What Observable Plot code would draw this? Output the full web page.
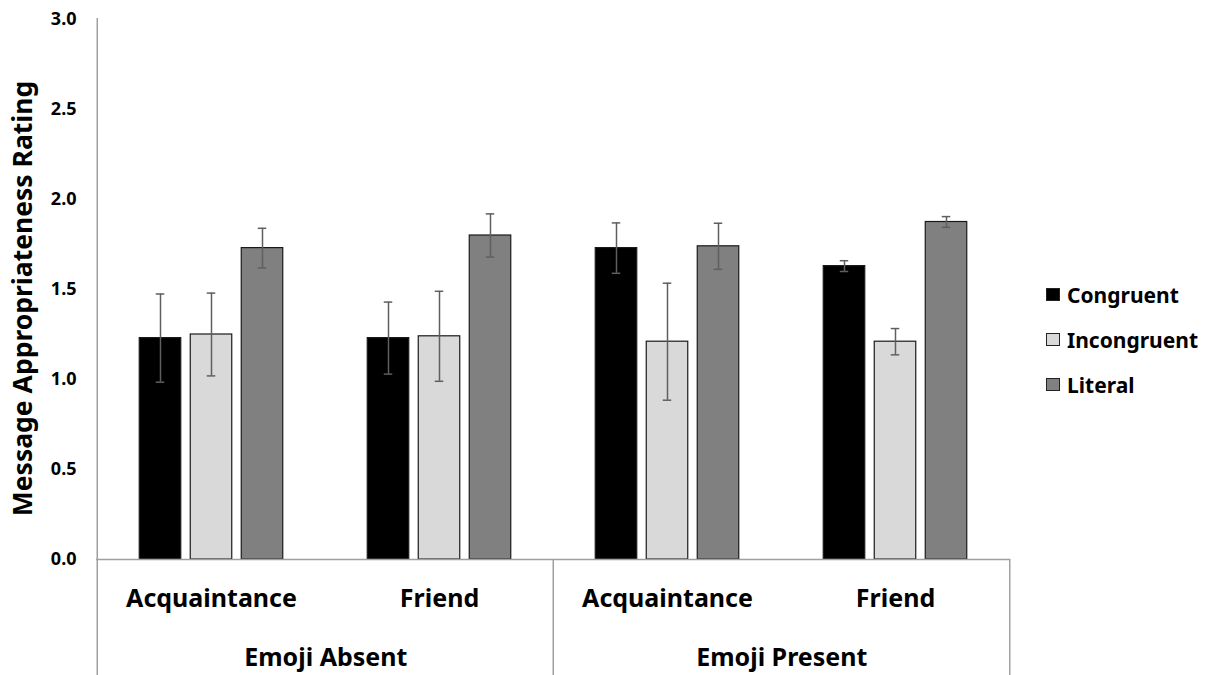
<!DOCTYPE html>
<html><head><meta charset="utf-8">
<script src="https://cdn.jsdelivr.net/npm/d3@7"></script>
<script src="https://cdn.jsdelivr.net/npm/@observablehq/plot@0.6"></script>
<style>
body{margin:0;background:#fff;font-family:"Noto Sans",sans-serif}
#wrap{position:relative;width:1208px;height:675px;overflow:hidden}
#legend{position:absolute;left:1046px;top:272px;font-family:"Noto Sans",sans-serif;font-weight:bold;font-size:21px;color:#000}
#legend .item{display:flex;align-items:center;height:45px}
#legend .sw{width:14px;height:13px;border:1px solid #222;margin-right:7px;box-sizing:border-box}
g[aria-label="y-axis tick label"]{font-size:18px !important;font-weight:bold}
</style></head><body>
<div id="wrap"><div id="chart"></div><div id="legend"></div></div>
<script>
// ---- data ----
const categories = ["Absent|Acquaintance", "Absent|Friend", "Present|Acquaintance", "Present|Friend"];
const categoryLabels = ["Acquaintance", "Friend", "Acquaintance", "Friend"];
const groupLabels = ["Emoji Absent", "Emoji Present"];
const groupFirstCategory = ["Absent|Acquaintance", "Present|Acquaintance"];
const series = ["Congruent", "Incongruent", "Literal"];
const seriesColors = ["#000000", "#d9d9d9", "#808080"];
const congruent = [1.23, 1.23, 1.73, 1.63];
const congruentErr = [0.245, 0.20, 0.14, 0.03];
const incongruent = [1.25, 1.24, 1.21, 1.21];
const incongruentErr = [0.23, 0.25, 0.325, 0.073];
const literal = [1.73, 1.80, 1.74, 1.875];
const literalErr = [0.11, 0.12, 0.128, 0.03];
const yTicks = [0, 0.5, 1.0, 1.5, 2.0, 2.5, 3.0];
const yLabel = "Message Appropriateness Rating";

// ---- layout ----
const W = 1208, H = 675, mL = 96, mR = 198, mT = 19, mB = 116;
const band = (W - mL - mR) / categories.length;
const barW = 42, step = 51, capW = 9;
const seriesValues = [congruent, incongruent, literal];
const seriesErrs = [congruentErr, incongruentErr, literalErr];
const axisColor = "#a0a0a0";

const marks = [];
series.forEach((s, si) => {
  const rows = categories.map((c, ci) => ({
    cat: c, value: seriesValues[si][ci], lo: seriesValues[si][ci] - seriesErrs[si][ci], hi: seriesValues[si][ci] + seriesErrs[si][ci]
  }));
  const dx = (si - 1) * step;
  marks.push(Plot.barY(rows, {x: "cat", y: "value", dx, insetLeft: (band - barW) / 2, insetRight: (band - barW) / 2,
    fill: seriesColors[si], stroke: "#1a1a1a", strokeWidth: 1.2}));
  marks.push(Plot.ruleX(rows, {x: "cat", y1: "lo", y2: "hi", dx, stroke: "#5f5f5f", strokeWidth: 1.5}));
  marks.push(Plot.tickY(rows, {x: "cat", y: "hi", dx, insetLeft: (band - capW) / 2, insetRight: (band - capW) / 2, stroke: "#5f5f5f", strokeWidth: 1.5}));
  marks.push(Plot.tickY(rows, {x: "cat", y: "lo", dx, insetLeft: (band - capW) / 2, insetRight: (band - capW) / 2, stroke: "#5f5f5f", strokeWidth: 1.5}));
});
// baseline
marks.push(Plot.ruleY([0], {stroke: axisColor, strokeWidth: 1.5}));
// left axis line (extends down through category area)
marks.push(Plot.ruleX([categories[0]], {x: d => d, dx: -band / 2, insetTop: -1, insetBottom: -mB, stroke: axisColor, strokeWidth: 1.5}));
// group separators
marks.push(Plot.ruleX([categories[2]], {x: d => d, dx: -band / 2, y1: 0, y2: 0, insetBottom: -mB, stroke: axisColor, strokeWidth: 1.5}));
marks.push(Plot.ruleX([categories[3]], {x: d => d, dx: band / 2, y1: 0, y2: 0, insetBottom: -mB, stroke: axisColor, strokeWidth: 1.5}));
// axes
marks.push(Plot.axisY({ticks: yTicks, tickFormat: d3.format(".1f"), tickSize: 0, tickPadding: 20, fontSize: 18, fontWeight: "bold", label: null}));
marks.push(Plot.axisX({tickFormat: (d) => categoryLabels[categories.indexOf(d)], tickSize: 0, tickPadding: 30, fontSize: 25, fontWeight: "bold", label: null}));
// group labels
marks.push(Plot.text(groupFirstCategory, {x: d => d, text: (d, i) => groupLabels[i], frameAnchor: "bottom", lineAnchor: "middle", dx: band / 2, dy: 98, fontSize: 25, fontWeight: "bold", fill: "#000"}));
// y label
marks.push(Plot.text([yLabel], {frameAnchor: "left", text: d => d, rotate: -90, textAnchor: "middle", lineAnchor: "middle", dx: -73, dy: 9, fontSize: 26.5, fontWeight: "bold", fill: "#000"}));

const chart = Plot.plot({
  width: W, height: H, marginLeft: mL, marginRight: mR, marginTop: mT, marginBottom: mB,
  style: {fontFamily: "'Noto Sans', sans-serif", color: "#000", background: "#fff", overflow: "visible"},
  x: {type: "band", domain: categories, padding: 0},
  y: {domain: [0, 3]},
  marks
});
document.getElementById("chart").appendChild(chart);

const legend = document.getElementById("legend");
series.forEach((s, i) => {
  const it = document.createElement("div"); it.className = "item";
  const sw = document.createElement("span"); sw.className = "sw"; sw.style.background = seriesColors[i];
  const tx = document.createElement("span"); tx.textContent = s;
  it.appendChild(sw); it.appendChild(tx); legend.appendChild(it);
});
</script>
</body></html>
